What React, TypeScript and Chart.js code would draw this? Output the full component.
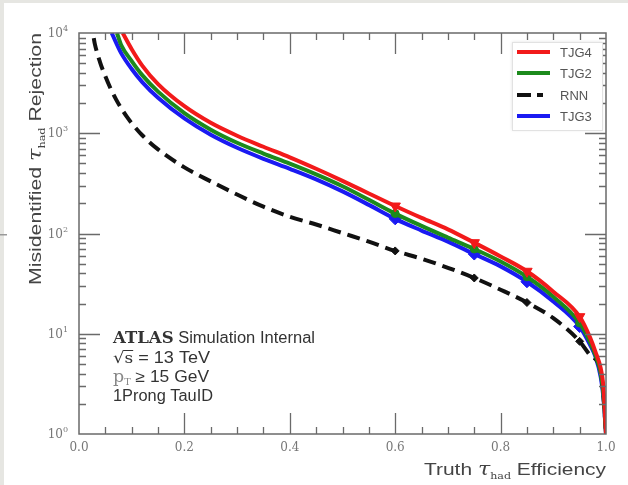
import React, { useEffect, useRef } from "react";
import { Chart, registerables } from "chart.js";

Chart.register(...registerables);

// ---------- data ----------
const WORKING_POINTS = [0.6, 0.75, 0.85, 0.95];

const TJG4_EFF = [0.083, 0.1, 0.12, 0.15, 0.2, 0.25, 0.3, 0.35, 0.4, 0.45, 0.5, 0.55, 0.6, 0.65, 0.7, 0.75, 0.8, 0.85, 0.9, 0.95, 0.97, 0.98, 0.99, 0.995, 1.0];
const TJG4_REJ = [10000, 6900, 4730, 3090, 1860, 1270, 944, 733, 575, 442, 335, 251, 188, 143, 110, 81, 59, 42, 26.3, 14.8, 9.1, 6.6, 4.5, 3.0, 1];

const TJG2_EFF = [0.072, 0.08, 0.1, 0.12, 0.15, 0.2, 0.25, 0.3, 0.35, 0.4, 0.45, 0.5, 0.55, 0.6, 0.65, 0.7, 0.75, 0.8, 0.85, 0.9, 0.95, 0.97, 0.98, 0.99, 0.995, 1.0];
const TJG2_REJ = [10000, 7590, 5250, 3800, 2600, 1585, 1085, 803, 627, 498, 389, 296, 217, 158, 119, 91, 70, 52.5, 37, 23.4, 12.8, 8.2, 6.1, 4.0, 2.5, 1];

const RNN_EFF = [0.028, 0.03, 0.04, 0.05, 0.06, 0.07, 0.08, 0.09, 0.1, 0.12, 0.15, 0.2, 0.25, 0.3, 0.35, 0.4, 0.45, 0.5, 0.55, 0.6, 0.65, 0.7, 0.75, 0.8, 0.85, 0.9, 0.95, 0.97, 0.99, 0.995, 1.0];
const RNN_REJ = [8900, 7800, 5100, 3700, 2790, 2190, 1780, 1480, 1260, 955, 690, 457, 331, 245, 185, 147, 123, 101, 83, 67, 56, 45.5, 36, 27.5, 20.5, 14.3, 8.4, 6.1, 4.3, 2.5, 1];

const TJG3_EFF = [0.062, 0.08, 0.1, 0.12, 0.15, 0.2, 0.25, 0.3, 0.35, 0.4, 0.45, 0.5, 0.55, 0.6, 0.65, 0.7, 0.75, 0.8, 0.85, 0.9, 0.95, 0.97, 0.98, 0.99, 0.995, 1.0];
const TJG3_REJ = [10000, 6300, 4370, 3240, 2260, 1406, 966, 716, 556, 442, 347, 263, 193, 140, 107, 83, 62.4, 47, 33, 21, 11.8, 7.7, 5.9, 3.7, 2.35, 1];

const SERIES_NAMES = ["TJG4", "TJG2", "RNN", "TJG3"];
const X_TICKS = [0, 0.2, 0.4, 0.6, 0.8, 1.0];
const X_TICK_LABELS = ["0.0", "0.2", "0.4", "0.6", "0.8", "1.0"];
const Y_DECADES = [0, 1, 2, 3, 4];

const COLORS = { TJG4: "#f21a1a", TJG2: "#1c8a1c", RNN: "#111111", TJG3: "#1a1af2" };

const toPts = (xs: number[], ys: number[]) => xs.map((x, i) => ({ x, y: ys[i] }));

type Seg = { t: string; f: string; dy?: number; c?: string };

function richWidth(ctx: CanvasRenderingContext2D, segs: Seg[]) {
  let w = 0;
  for (const s of segs) {
    ctx.font = s.f;
    w += ctx.measureText(s.t).width;
  }
  return w;
}
// draws a run of differently styled text; optional target width stretches it horizontally
function drawRich(
  ctx: CanvasRenderingContext2D,
  segs: Seg[],
  x: number,
  y: number,
  align: "left" | "right" | "center",
  color: string,
  target?: number
) {
  const nat = richWidth(ctx, segs);
  const sx = target ? target / nat : 1;
  const w = nat * sx;
  const x0 = align === "left" ? x : align === "right" ? x - w : x - w / 2;
  ctx.save();
  ctx.translate(x0, y);
  ctx.scale(sx, 1);
  ctx.textAlign = "left";
  ctx.textBaseline = "alphabetic";
  let cx = 0;
  for (const s of segs) {
    ctx.font = s.f;
    ctx.fillStyle = s.c || color;
    ctx.fillText(s.t, cx, s.dy || 0);
    cx += ctx.measureText(s.t).width;
  }
  ctx.restore();
  return { x0, sx };
}

const decorPlugin = {
  id: "decor",
  beforeDraw(chart: any) {
    const ctx = chart.ctx as CanvasRenderingContext2D;
    ctx.save();
    ctx.fillStyle = "#ffffff";
    ctx.fillRect(0, 0, chart.width, chart.height);
    ctx.fillStyle = "#e6e6e2";
    ctx.fillRect(0, 0, chart.width, 3);
    ctx.fillRect(0, 0, 4, chart.height);
    ctx.fillStyle = "#999";
    ctx.fillRect(0, 234, 7, 1.5);
    ctx.restore();
  },
  afterDatasetsDraw(chart: any) {
    const ctx = chart.ctx as CanvasRenderingContext2D;
    const xs = chart.scales.x;
    const ys = chart.scales.y;
    const { left, right, top, bottom } = chart.chartArea;
    ctx.save();
    ctx.strokeStyle = "#6a6a6a";
    ctx.lineWidth = 1.5;
    ctx.strokeRect(left, top, right - left, bottom - top);

    // x ticks (major 0.2, minor 0.05) on bottom and top, pointing inward
    ctx.lineWidth = 1.3;
    for (let i = 1; i < 20; i++) {
      const v = i * 0.05;
      const px = Math.round(xs.getPixelForValue(v)) + 0.5;
      const major = i % 4 === 0;
      const len = major ? 21 : 7;
      ctx.beginPath();
      ctx.moveTo(px, bottom);
      ctx.lineTo(px, bottom - len);
      ctx.moveTo(px, top);
      ctx.lineTo(px, top + len);
      ctx.stroke();
    }
    // y ticks (log) on left and right
    for (let n = 0; n < 4; n++) {
      for (let m = 1; m <= 9; m++) {
        if (n === 0 && m === 1) continue;
        const v = m * Math.pow(10, n);
        const py = Math.round(ys.getPixelForValue(v)) + 0.5;
        const len = m === 1 ? 21 : 7;
        ctx.beginPath();
        ctx.moveTo(left, py);
        ctx.lineTo(left + len, py);
        ctx.moveTo(right, py);
        ctx.lineTo(right - len, py);
        ctx.stroke();
      }
    }

    // x tick labels
    ctx.fillStyle = "#777";
    ctx.font = '12px "DejaVu Serif"';
    ctx.textAlign = "center";
    ctx.textBaseline = "middle";
    X_TICKS.forEach((v, i) => {
      ctx.fillText(X_TICK_LABELS[i], xs.getPixelForValue(v), bottom + 14);
    });
    // y tick labels 10^n
    Y_DECADES.forEach((n) => {
      const py = ys.getPixelForValue(Math.pow(10, n));
      drawRich(ctx, [
        { t: "10", f: '12px "DejaVu Serif"' },
        { t: String(n), f: '8px "DejaVu Serif"', dy: -6 },
      ], left - 11, py + 4, "right", "#777");
    });

    // axis titles
    const titleFont = '17px "Liberation Sans"';
    const tauFont = 'italic 18px "DejaVu Serif"';
    const subFont = '9px "DejaVu Serif"';
    drawRich(ctx, [
      { t: "Truth ", f: titleFont },
      { t: "τ", f: tauFont },
      { t: "had", f: subFont, dy: 4 },
      { t: " Efficiency", f: titleFont },
    ], right, bottom + 41, "right", "#444", 182);

    ctx.save();
    ctx.translate(41, top);
    ctx.rotate(-Math.PI / 2);
    drawRich(ctx, [
      { t: "Misidentified ", f: titleFont },
      { t: "τ", f: tauFont },
      { t: "had", f: subFont, dy: 4 },
      { t: " Rejection", f: titleFont },
    ], 0, 0, "right", "#444", 252);
    ctx.restore();

    // annotation
    const ax = 113;
    const sans = '16px "Liberation Sans"';
    drawRich(ctx, [
      { t: "ATLAS", f: 'bold 16px "DejaVu Serif"' },
      { t: " Simulation Internal", f: sans },
    ], ax, 343, "left", "#333", 202);
    const r2 = drawRich(ctx, [
      { t: "√", f: '16px "DejaVu Serif"' },
      { t: "s", f: '15px "DejaVu Serif"' },
      { t: " = 13 TeV", f: sans },
    ], ax, 363, "left", "#333", 97);
    ctx.font = '16px "DejaVu Serif"';
    const wRoot = ctx.measureText("√").width * r2.sx;
    ctx.font = '15px "DejaVu Serif"';
    const wS = ctx.measureText("s").width * r2.sx;
    ctx.strokeStyle = "#333";
    ctx.lineWidth = 1;
    ctx.beginPath();
    ctx.moveTo(ax + wRoot - 1, 350.5);
    ctx.lineTo(ax + wRoot + wS, 350.5);
    ctx.stroke();
    drawRich(ctx, [
      { t: "p", f: '16px "DejaVu Serif"', c: "#888" },
      { t: "T", f: '9px "DejaVu Serif"', dy: 3, c: "#888" },
      { t: " ≥ 15 GeV", f: sans },
    ], ax, 382, "left", "#333", 96);
    drawRich(ctx, [{ t: "1Prong TauID", f: sans }], ax, 401, "left", "#333", 100);

    // legend
    const lx = 512, ly = 42, lw = 90, lh = 88;
    ctx.fillStyle = "#fff";
    ctx.shadowColor = "rgba(0,0,0,0.12)";
    ctx.shadowBlur = 3;
    ctx.fillRect(lx, ly, lw, lh);
    ctx.shadowBlur = 0;
    ctx.shadowColor = "transparent";
    ctx.strokeStyle = "#e2e2e2";
    ctx.lineWidth = 1;
    ctx.strokeRect(lx + 0.5, ly + 0.5, lw, lh);
    const rows = [52, 73, 95, 116];
    SERIES_NAMES.forEach((name, i) => {
      const y = rows[i];
      ctx.strokeStyle = (COLORS as any)[name];
      ctx.lineWidth = 4;
      ctx.setLineDash(name === "RNN" ? [14, 6, 6, 100] : []);
      ctx.beginPath();
      ctx.moveTo(517, y);
      ctx.lineTo(550, y);
      ctx.stroke();
      ctx.setLineDash([]);
      ctx.fillStyle = "#555";
      ctx.font = '13px "Liberation Sans"';
      ctx.textAlign = "left";
      ctx.textBaseline = "middle";
      ctx.fillText(name, 560, y + 1);
    });
    ctx.restore();
  },
};

const wpRadius = (r: number) => (c: any) => (c.raw && WORKING_POINTS.includes(c.raw.x) ? r : 0);

export default function App() {
  const ref = useRef<HTMLCanvasElement>(null);
  useEffect(() => {
    document.body.style.margin = "0";
    const common = { borderWidth: 4, showLine: true, cubicInterpolationMode: "monotone", pointBorderWidth: 1 };
    const chart = new Chart(ref.current as HTMLCanvasElement, {
      type: "scatter",
      data: {
        datasets: [
          {
            ...common,
            label: "TJG4",
            data: toPts(TJG4_EFF, TJG4_REJ),
            borderColor: COLORS.TJG4,
            backgroundColor: COLORS.TJG4,
            pointStyle: "triangle",
            rotation: 180,
            pointRadius: wpRadius(6),
          },
          {
            ...common,
            label: "TJG2",
            data: toPts(TJG2_EFF, TJG2_REJ),
            borderColor: COLORS.TJG2,
            backgroundColor: COLORS.TJG2,
            pointStyle: "circle",
            pointRadius: wpRadius(4),
          },
          {
            ...common,
            label: "RNN",
            data: toPts(RNN_EFF, RNN_REJ),
            borderColor: COLORS.RNN,
            backgroundColor: COLORS.RNN,
            borderDash: [13, 7],
            pointStyle: "rectRot",
            pointRadius: wpRadius(4),
          },
          {
            ...common,
            label: "TJG3",
            data: toPts(TJG3_EFF, TJG3_REJ),
            borderColor: COLORS.TJG3,
            backgroundColor: COLORS.TJG3,
            pointStyle: "rectRot",
            pointRadius: wpRadius(6),
          },
        ],
      },
      options: {
        responsive: false,
        animation: false,
        devicePixelRatio: 1,
        layout: { padding: { left: 79, right: 22, top: 33, bottom: 51 } },
        plugins: { legend: { display: false }, tooltip: { enabled: false } },
        scales: {
          x: { type: "linear", min: 0, max: 1, display: false },
          y: { type: "logarithmic", min: 1, max: 10000, display: false },
        },
      },
      plugins: [decorPlugin],
    } as any);
    return () => chart.destroy();
  }, []);
  return (
    <div style={{ width: 628, height: 485, position: "relative", background: "#fff" }}>
      <canvas ref={ref} width={628} height={485} style={{ display: "block" }} />
    </div>
  );
}
